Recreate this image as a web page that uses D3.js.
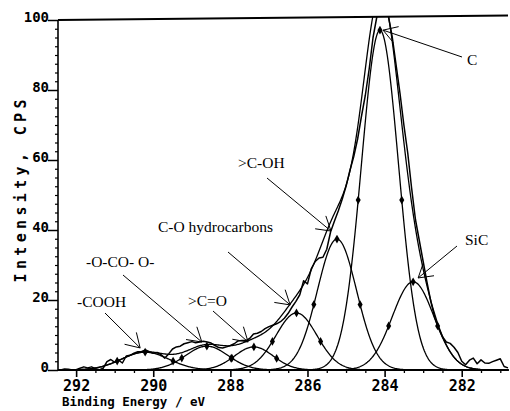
<!DOCTYPE html>
<html>
<head>
<meta charset="utf-8">
<script src="https://cdn.jsdelivr.net/npm/d3@7"></script>
<style>
  html, body { margin: 0; padding: 0; background: #fff; }
  svg { display: block; }
</style>
</head>
<body>
<svg id="chart" width="510" height="411"></svg>
<script>
// C 1s XPS spectrum: measured counts on a 0.1 eV grid, from 292.4 eV down to 280.8 eV
const energyStart = 292.4;
const energyStep = 0.1;
const counts = [
  0.0, 0.3, 0.2, 0.0, 0.1, 0.5, 0.9, 0.6, 0.9, 0.4,
  0.0, 0.5, 2.4, 3.0, 2.2, 2.8, 2.0, 4.0, 4.2, 4.8,
  5.2, 5.3, 5.7, 5.2, 4.8, 5.0, 4.4, 3.4, 4.6, 6.0,
  6.6, 6.8, 7.5, 7.8, 8.1, 7.8, 8.0, 8.2, 8.0, 7.7,
  7.0, 6.4, 6.3, 6.6, 7.0, 7.5, 8.3, 8.4, 8.4, 9.0,
  10.3, 10.5, 11.0, 11.8, 12.4, 12.8, 13.2, 13.8, 14.8, 16.2,
  18.0, 19.6, 21.5, 25.5, 24.6, 29.0, 31.0, 32.0, 32.2, 34.5,
  39.5, 42.6, 45.5, 48.8, 52.5, 57.0, 61.0, 66.0, 72.5, 78.5,
  86.0, 95.0, 101, 104, 104, 101, 95, 87, 79, 70,
  62, 52, 43, 37, 31, 25, 19.5, 15.0, 12.0, 9.5,
  8.0, 7.6, 6.5, 5.0, 2.5, 1.5, 2.8, 3.4, 1.8, 2.9,
  2.0, 1.9, 2.4, 2.8, 3.2, 1.0, 0.6
];

// Fitted Gaussian components (centre / height / FWHM)
const peakNames   = ["-COOH", "-O-CO- O-", ">C=O", "C-O hydrocarbons", ">C-OH", "C", "SiC"];
const peakCenters = [290.21, 288.61, 287.39, 286.285, 285.235, 284.12, 283.26];
const peakHeights = [5.1, 6.8, 6.6, 16.3, 37.4, 97.1, 25.2];
const peakFwhm    = [1.45, 1.3, 1.18, 1.25, 1.2, 1.13, 1.27];

// Axis ticks
const xTicks = [292, 290, 288, 286, 284, 282];
const yTicks = [0, 20, 40, 60, 80, 100];

const svg = d3.select("#chart");
const x = d3.scaleLinear().domain([292.47, 280.8]).range([58, 508]);
const y = d3.scaleLinear().domain([0, 100]).range([370, 20]);

const tickFont = "'DejaVu Sans Mono', monospace";
const labelFont = "'Liberation Serif', 'Times New Roman', serif";

// clip everything above the top frame line
const topLeft = [58, y(100)], topRight = [508, y(100) - 4.5];
svg.append("clipPath").attr("id", "plotClip")
  .append("polygon")
  .attr("points", [topLeft, topRight, [510, 380], [58, 380]].map(p => p.join(",")).join(" "));

const spectrum = counts.map((c, i) => ({ e: +(energyStart - i * energyStep).toFixed(1), v: c }));

const peaks = peakNames.map((name, i) => ({
  name, c: peakCenters[i], h: peakHeights[i], s: peakFwhm[i] / 2.3548
}));
const gauss = (p, e) => p.h * Math.exp(-((e - p.c) ** 2) / (2 * p.s * p.s));

const fine = d3.range(0, 585).map(i => 292.47 - i * 0.02);

const line = d3.line().x(d => x(d[0])).y(d => y(d[1]));

const plot = svg.append("g").attr("clip-path", "url(#plotClip)")
  .attr("fill", "none").attr("stroke", "#000");

// component curves
peaks.forEach(p => {
  plot.append("path")
    .attr("d", line(fine.map(e => [e, gauss(p, e)])))
    .attr("stroke-width", 1.3);
});

// envelope (sum of components)
plot.append("path")
  .attr("d", line(fine.map(e => [e, d3.sum(peaks, p => gauss(p, e))])))
  .attr("stroke-width", 1.3);

// measured spectrum
plot.append("path")
  .attr("d", line(spectrum.map(d => [d.e, d.v])))
  .attr("stroke-width", 1.5)
  .attr("stroke-linejoin", "round");

// diamond markers at peak maximum and half-maximum points
const markerPts = [];
peaks.forEach(p => {
  const hw = p.s * 2.3548 / 2;
  [p.c - hw, p.c, p.c + hw].forEach(e => markerPts.push([e, gauss(p, e)]));
});
svg.append("g").attr("clip-path", "url(#plotClip)")
  .selectAll("path").data(markerPts).join("path")
  .attr("d", d3.symbol(d3.symbolDiamond, 22))
  .attr("transform", d => `translate(${x(d[0])},${y(d[1])})`)
  .attr("fill", "#000");

// frame: left axis, bottom axis, top line
const frame = svg.append("g").attr("stroke", "#000").attr("fill", "none");
frame.append("line").attr("x1", 58).attr("x2", 58).attr("y1", y(100)).attr("y2", y(0)).attr("stroke-width", 1.6);
frame.append("line").attr("x1", 58).attr("x2", 508).attr("y1", y(0)).attr("y2", y(0)).attr("stroke-width", 1.6);
frame.append("line").attr("x1", topLeft[0]).attr("y1", topLeft[1]).attr("x2", topRight[0]).attr("y2", topRight[1]).attr("stroke-width", 2);

// x axis: major and minor ticks
const xMinor = d3.range(292.0, 280.9, -0.5).filter(v => !xTicks.includes(+v.toFixed(1)));
const xMinorAxis = d3.axisBottom(x).tickValues(xMinor).tickSize(3).tickFormat("");
svg.append("g").attr("transform", `translate(0,${y(0)})`).call(xMinorAxis)
  .call(g => g.select(".domain").remove())
  .call(g => g.selectAll("line").attr("stroke-width", 1.3));

const xAxis = d3.axisBottom(x).tickValues(xTicks).tickSize(7).tickPadding(3).tickFormat(d3.format("d"));
svg.append("g").attr("transform", `translate(0,${y(0)})`).call(xAxis)
  .call(g => g.select(".domain").remove())
  .call(g => g.selectAll("line").attr("stroke-width", 1.6))
  .call(g => g.selectAll("text")
    .attr("font-family", tickFont).attr("font-weight", "bold").attr("font-size", 15)
    .attr("fill", "#000").attr("y", 21).attr("dy", 0));

// y axis: major ticks with labels sitting on the tick line, minor ticks every 2.5
const yMinor = d3.range(0, 100.1, 2.5).filter(v => !yTicks.includes(v));
svg.append("g").attr("transform", "translate(58,0)")
  .call(d3.axisLeft(y).tickValues(yMinor).tickSize(3).tickFormat(""))
  .call(g => g.select(".domain").remove())
  .call(g => g.selectAll("line").attr("stroke-width", 1.2));

svg.append("g").attr("transform", "translate(58,0)")
  .call(d3.axisLeft(y).tickValues(yTicks).tickSize(10).tickPadding(0).tickFormat(d3.format("d")))
  .call(g => g.select(".domain").remove())
  .call(g => g.selectAll("line").attr("stroke-width", 1.5))
  .call(g => g.selectAll("text")
    .attr("font-family", tickFont).attr("font-weight", "bold").attr("font-size", 14)
    .attr("fill", "#000").attr("x", -9).attr("dy", 1));

// axis titles
svg.append("text")
  .attr("x", 62).attr("y", 406)
  .attr("font-family", tickFont).attr("font-weight", "bold").attr("font-size", 12.5)
  .attr("textLength", 143).attr("lengthAdjust", "spacing")
  .text("Binding Energy / eV");

svg.append("text")
  .attr("transform", "translate(26,191) rotate(-90)")
  .attr("text-anchor", "middle")
  .attr("font-family", tickFont).attr("font-weight", "bold").attr("font-size", 15)
  .attr("textLength", 183).attr("lengthAdjust", "spacing")
  .text("Intensity, CPS");

// component annotations: label position, arrow tail (px) and arrow tip (data coords)
const notes = [
  { text: "C",                label: [467, 65],  tail: [462, 57],  tip: [284.04, 97.1] },
  { text: "SiC",              label: [465, 245], tail: [457, 246], tip: [283.13, 26.3] },
  { text: ">C-OH",            label: [238, 168], tail: [267, 178], tip: [285.39, 39.7] },
  { text: "C-O hydrocarbons", label: [158, 232], tail: [228, 252], tip: [286.45, 18.6] },
  { text: ">C=O",             label: [188, 306], tail: [213, 311], tip: [287.54, 8.0] },
  { text: "-O-CO- O-",        label: [86, 267],  tail: [123, 275], tip: [288.74, 8.0] },
  { text: "-COOH",            label: [77, 307],  tail: [105, 313], tip: [290.34, 6.3] }
];

const ann = svg.append("g");
notes.forEach(n => {
  ann.append("text")
    .attr("x", n.label[0]).attr("y", n.label[1])
    .attr("font-family", labelFont).attr("font-size", 15.5).attr("fill", "#000")
    .text(n.text);
  const tx = x(n.tip[0]), ty = y(n.tip[1]);
  const a = Math.atan2(n.tail[1] - ty, n.tail[0] - tx);
  const g = ann.append("g").attr("stroke", "#000").attr("stroke-width", 1).attr("fill", "none");
  g.append("line").attr("x1", n.tail[0]).attr("y1", n.tail[1]).attr("x2", tx).attr("y2", ty);
  [-0.55, 0.55].forEach(da => {
    g.append("line").attr("x1", tx).attr("y1", ty)
      .attr("x2", tx + 16 * Math.cos(a + da)).attr("y2", ty + 16 * Math.sin(a + da));
  });
});
</script>
</body>
</html>
